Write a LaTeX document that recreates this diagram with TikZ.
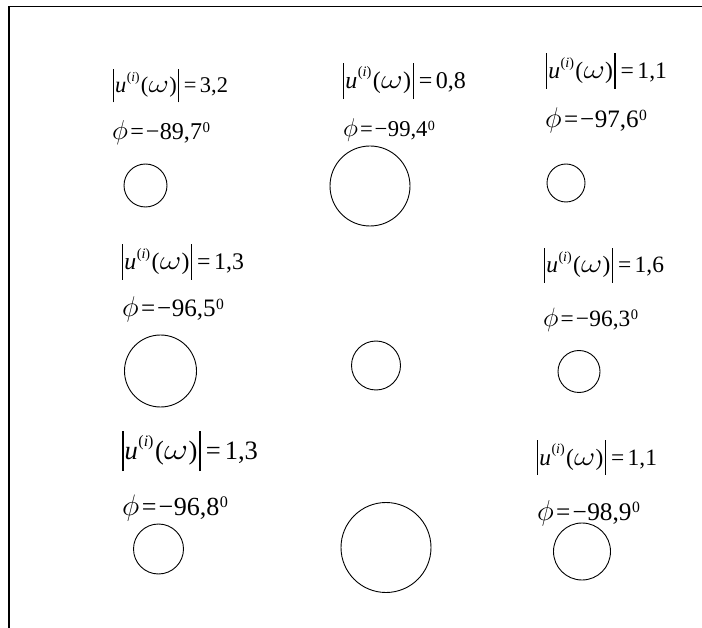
\documentclass[tikz,border=0pt]{standalone}
\usepackage{fontspec}
\setmainfont{Liberation Serif}
\newcommand{\absbar}{\rule[-0.42em]{0.06em}{1.5em}}
\newcommand{\magn}[1]{\absbar\kern0.04em\textit{u}\kern0.02em\raisebox{0.5em}{\scalebox{0.6}{(\textit{i})}}\kern0.06em(\kern0.01em\scalebox{1.3}[1.05]{$\omega$}\kern0.01em)\kern0.06em\absbar\kern0.2em=\kern0.15em#1}
\newcommand{\phv}[1]{\scalebox{1.05}{$\phi$}\kern0.1em=\kern0.08em−\kern0.02em#1\kern0.02em\raisebox{0.3em}{\scalebox{0.62}{0}}}
\newcommand{\fitw}[2]{\resizebox{#1pt}{!}{#2}}
\tikzset{
  lab/.style={anchor=base west, inner sep=0pt, outer sep=0pt, font=\fontsize{23}{23}\selectfont},
  ring/.style={circle, draw, line width=0.9pt, inner sep=0pt, minimum size=#1}
}
\begin{document}
\begin{tikzpicture}[x={(1pt,0)}, y={(0,-1pt)}]
\useasboundingbox (0,0) rectangle (702,628);
\draw[line width=1.6pt] (9,628) -- (9,6.5) -- (702,6.5);
% row 1
\node[lab] (m1) at (113,93) {\fitw{115}{\magn{3,2}}};
\node[lab] (p1) at (112,140) {\fitw{98}{\phv{89,7}}};
\node[ring=43pt] (c1) at (145.5,185.5) {};
\node[lab] (m2) at (343,89) {\fitw{123}{\magn{0,8}}};
\node[lab] (p2) at (343,137) {\fitw{92}{\phv{99,4}}};
\node[ring=80pt] (c2) at (370,186) {};
\node[lab] (m3) at (546,79) {\fitw{121}{\magn{1,1}}};
\node[lab] (p3) at (545,128) {\fitw{102}{\phv{97,6}}};
\node[ring=38pt] (c3) at (566,183) {};
% row 2
\node[lab] (m4) at (122,270) {\fitw{122}{\magn{1,3}}};
\node[lab] (p4) at (122,317) {\fitw{102}{\phv{96,5}}};
\node[ring=72pt] (c4) at (160.5,371) {};
\node[ring=49pt] (c5) at (376,365.5) {};
\node[lab] (m6) at (544,273) {\fitw{120}{\magn{1,6}}};
\node[lab] (p6) at (543,327) {\fitw{95}{\phv{96,3}}};
\node[ring=42pt] (c6) at (579,371.5) {};
% row 3
\node[lab] (m7) at (122,460) {\fitw{136}{\magn{1,3}}};
\node[lab] (p7) at (122,515) {\fitw{106}{\phv{96,8}}};
\node[ring=50pt] (c7) at (158.5,549) {};
\node[ring=90pt] (c8) at (386,547.5) {};
\node[lab] (m9) at (537,465) {\fitw{120}{\magn{1,1}}};
\node[lab] (p9) at (537,520) {\fitw{103}{\phv{98,9}}};
\node[ring=57pt] (c9) at (582,551.5) {};
\end{tikzpicture}
\end{document}
